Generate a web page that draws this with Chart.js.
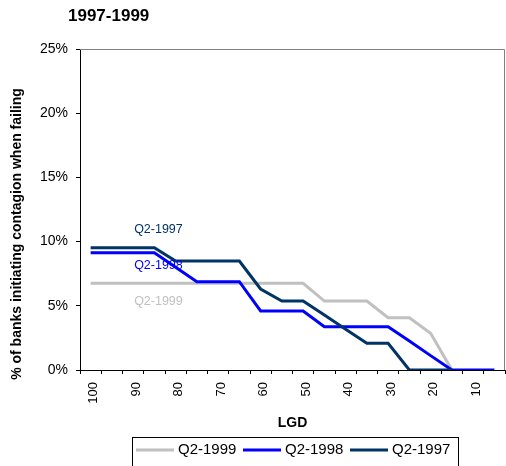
<!DOCTYPE html>
<html>
<head>
<meta charset="utf-8">
<script src="https://cdn.jsdelivr.net/npm/chart.js@4.4.0/dist/chart.umd.min.js"></script>
<style>
  body { margin: 0; background: #fff; }
  canvas { display: block; }
</style>
</head>
<body>
<canvas id="grafico" width="506" height="466"></canvas>
<script>
// LGD categories (x axis, decreasing)
const lgd = [100, 95, 90, 85, 80, 75, 70, 65, 60, 55, 50, 45, 40, 35, 30, 25, 20, 15, 10, 5];

// % of banks initiating contagion
const q2_1999 = [6.75, 6.75, 6.75, 6.75, 6.75, 6.75, 6.75, 6.75, 6.75, 6.75, 6.75, 5.37, 5.37, 5.37, 4.07, 4.07, 2.86, 0, null, null];
const q2_1998 = [9.14, 9.14, 9.14, 9.14, 8.01, 6.88, 6.88, 6.88, 4.6, 4.6, 4.6, 3.37, 3.37, 3.37, 3.37, 2.25, 1.12, 0, 0, 0];
const q2_1997 = [9.52, 9.52, 9.52, 9.52, 8.49, 8.49, 8.49, 8.49, 6.31, 5.37, 5.37, 4.28, 3.18, 2.08, 2.08, 0, 0, 0, null, null];

const series = ["Q2-1999", "Q2-1998", "Q2-1997"];
const cores = ["#c0c0c0", "#0000ff", "#003366"];
const yTicks = [0, 5, 10, 15, 20, 25];

const fonte = "'Liberation Sans', Arial, sans-serif";

// textos extras: titulo, eixos, legenda e rotulos das series
const textosExtras = {
  id: "textosExtras",
  beforeDatasetsDraw(chart) {
    const { ctx, chartArea: a } = chart;
    ctx.save();
    ctx.strokeStyle = "#808080";
    ctx.lineWidth = 1;
    ctx.beginPath();
    ctx.moveTo(a.left, a.top + 0.5);
    ctx.lineTo(a.right - 0.5, a.top + 0.5);
    ctx.lineTo(a.right - 0.5, a.bottom);
    ctx.stroke();
    ctx.restore();
  },
  afterDraw(chart) {
    const { ctx, chartArea: a, scales } = chart;
    ctx.save();
    ctx.fillStyle = "#000";
    ctx.textBaseline = "middle";

    // titulo
    ctx.font = "bold 17px " + fonte;
    ctx.textAlign = "left";
    ctx.fillText("1997-1999", 68, 16);

    // eixo x
    ctx.font = "bold 14px " + fonte;
    ctx.textAlign = "center";
    ctx.fillText("LGD", (a.left + a.right) / 2, 423);

    // eixo y
    ctx.save();
    ctx.translate(17, 234);
    ctx.rotate(-Math.PI / 2);
    ctx.font = "bold 14px " + fonte;
    ctx.fillText("% of banks initiating contagion when failing", 0, 0);
    ctx.restore();

    // rotulos dentro do grafico
    const rotulos = [["Q2-1997", 10.9, 2], ["Q2-1998", 8.12, 1], ["Q2-1999", 5.37, 0]];
    ctx.font = "12.5px " + fonte;
    ctx.textAlign = "left";
    rotulos.forEach(([txt, v, i]) => {
      ctx.fillStyle = cores[i];
      ctx.fillText(txt, scales.x.getPixelForValue(2) + 1, scales.y.getPixelForValue(v));
    });

    // legenda
    ctx.strokeStyle = "#000";
    ctx.lineWidth = 1;
    ctx.strokeRect(132.5, 437.5, 326, 40);
    ctx.font = "15px " + fonte;
    chart.data.datasets.forEach((ds, i) => {
      const x0 = 136 + 107 * i;
      ctx.strokeStyle = ds.borderColor;
      ctx.lineWidth = 3;
      ctx.beginPath();
      ctx.moveTo(x0, 450);
      ctx.lineTo(x0 + 38, 450);
      ctx.stroke();
      ctx.fillStyle = "#000";
      ctx.fillText(ds.label, x0 + 42, 450);
    });
    ctx.restore();
  }
};

const dadosSeries = [q2_1999, q2_1998, q2_1997];

new Chart(document.getElementById("grafico"), {
  type: "line",
  data: {
    labels: lgd,
    datasets: series.map((nome, i) => ({
      label: nome,
      data: dadosSeries[i],
      borderColor: cores[i],
      backgroundColor: cores[i],
      borderWidth: 3,
      pointRadius: 0,
      tension: 0,
      fill: false,
      order: 3 - i
    }))
  },
  options: {
    responsive: false,
    animation: false,
    layout: { padding: { top: 49, right: 1, left: 0, bottom: 0 } },
    plugins: {
      legend: { display: false },
      title: { display: false },
      tooltip: { enabled: false }
    },
    scales: {
      x: {
        offset: true,
        grid: { offset: true, drawOnChartArea: false, tickLength: 4, color: "#000" },
        border: { color: "#000" },
        ticks: {
          autoSkip: false,
          minRotation: 90,
          maxRotation: 90,
          padding: 8,
          labelOffset: 3,
          color: "#000",
          font: { family: fonte, size: 13 },
          callback: function (v, i) { return i % 2 === 0 ? this.getLabelForValue(v) : ""; }
        },
        afterFit: s => { s.height = 96; s.paddingLeft = 0; s.paddingRight = 0; }
      },
      y: {
        min: 0,
        max: 25,
        afterBuildTicks: s => { s.ticks = yTicks.map(v => ({ value: v })); },
        grid: { drawOnChartArea: false, tickLength: 4, color: "#000" },
        border: { color: "#000" },
        ticks: {
          padding: 8,
          color: "#000",
          font: { family: fonte, size: 14 },
          callback: v => v + "%"
        },
        afterFit: s => { s.width = 80; s.paddingTop = 0; s.paddingBottom = 0; }
      }
    }
  },
  plugins: [textosExtras]
});
</script>
</body>
</html>
